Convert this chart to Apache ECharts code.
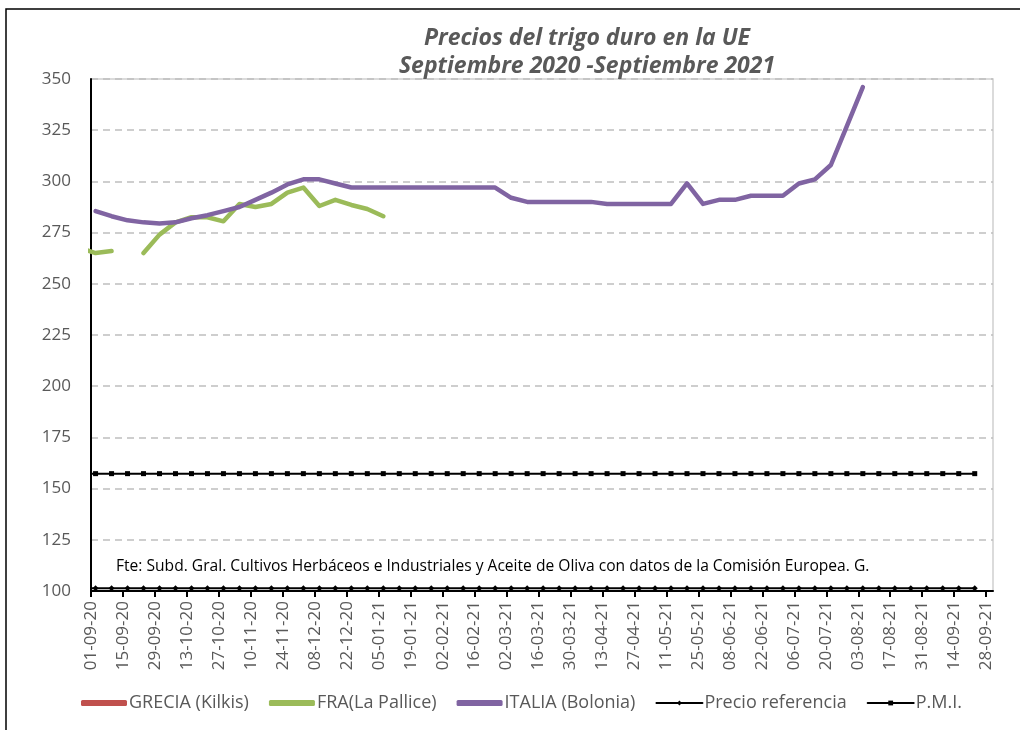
<!DOCTYPE html>
<html>
<head>
<meta charset="utf-8">
<script src="https://cdn.jsdelivr.net/npm/echarts@6/dist/echarts.min.js"></script>
<style>
  html, body { margin: 0; padding: 0; background: #fff; }
  #chart { width: 1020px; height: 730px; }
</style>
</head>
<body>
<div id="chart"></div>
<script>
// Precios del trigo duro en la UE (semanal, Sep 2020 - Sep 2021)

// semanas: jueves desde 27-08-20, en dias desde 01-09-20
const dia0 = Date.UTC(2020, 8, 1)
const unDia = 86400000
const dias = []
for (let k = 0; k < 57; k++) {
  dias.push(-5 + 7 * k)
}

// eur/t, un valor por semana (null = sin dato)
const grecia = []
const fra = [267.5, 265, 266, null, 265, 274, 280, 282.5, 282.5, 280.5, 289, 287.5, 289, 294.5, 297, 288, 291, 288.5, 286.5, 283]
const italia = [null,
  285.5, 283, 281, 280, 279.5, 280, 282, 283.5, 285.5, 287.5, 291, 294.5, 298.5, 301, 301, 299,
  297, 297, 297, 297, 297, 297, 297, 297, 297, 297,
  292, 290, 290, 290, 290, 290, 289, 289, 289, 289, 289,
  299, 289, 291, 291, 293, 293, 293, 299, 301, 308, 327, 346]
const precio_ref = 101.31
const pmi = 157.3

// ticks del eje x cada 14 dias: 01-09-20 ... 28-09-21
const ticks_x = []
for (let d = 0; d <= 392; d += 14) ticks_x.push(d)

function fechaTxt(d) {
  const f = new Date(dia0 + d * unDia)
  const dd = String(f.getUTCDate()).padStart(2, '0')
  const mm = String(f.getUTCMonth() + 1).padStart(2, '0')
  const yy = String(f.getUTCFullYear()).slice(2)
  return `${dd}-${mm}-${yy}`
}

function toPairs(arr) {
  return dias.map((d, k) => [d, arr[k] == null ? null : arr[k]])
}
function constante(v) {
  return dias.map(d => [d, v])
}

const font = 'Open Sans'
const gris = '#595959'

const serie = (name, data, color, width, symbol, size) => ({
  type: 'line',
  name: name,
  data: data,
  color: color,
  symbol: symbol || 'none',
  symbolSize: size || 0,
  showSymbol: !!symbol,
  connectNulls: false,
  clip: true,
  lineStyle: { width: width, color: color, cap: 'round', join: 'round' },
  itemStyle: { color: color },
  emphasis: { disabled: true },
})

const chart = echarts.init(document.getElementById('chart'))
chart.setOption({
  animation: false,
  title: {
    text: 'Precios del trigo duro en la UE\nSeptiembre 2020 -Septiembre 2021',
    left: 582,
    top: 19,
    textAlign: 'center',
    textStyle: {
      fontFamily: font,
      fontSize: 23,
      fontWeight: 'bold',
      fontStyle: 'italic',
      color: gris,
      lineHeight: 28,
    },
  },
  legend: {
    left: 76,
    top: 689,
    itemWidth: 46,
    itemHeight: 6,
    itemGap: 20,
    textStyle: { fontFamily: font, fontSize: 18, color: gris, padding: [0, 0, 0, -3] },
    data: [
      { name: 'GRECIA (Kilkis)', icon: 'roundRect' },
      { name: 'FRA(La Pallice)', icon: 'roundRect' },
      { name: 'ITALIA (Bolonia)', icon: 'roundRect' },
      'Precio referencia',
      'P.M.I.',
    ],
  },
  grid: { left: 91, right: 27, top: 79, bottom: 139 },
  xAxis: {
    type: 'value',
    min: 0,
    max: 395,
    interval: 14,
    axisLine: { show: true, onZero: false, lineStyle: { color: '#000', width: 2 } },
    axisTick: { show: true, length: 6, customValues: ticks_x, lineStyle: { color: '#000', width: 2 } },
    axisLabel: {
      customValues: ticks_x,
      rotate: 90,
      margin: 10,
      fontFamily: font,
      fontSize: 17,
      color: gris,
      formatter: v => fechaTxt(v),
    },
    splitLine: { show: false },
  },
  yAxis: {
    type: 'value',
    min: 100,
    max: 350,
    interval: 25,
    axisLine: { show: true, lineStyle: { color: '#000', width: 2 } },
    axisTick: { show: false },
    axisLabel: { margin: 20, fontFamily: font, fontSize: 17, color: gris },
    splitLine: { show: true, lineStyle: { color: '#BFBFBF', width: 1.5, type: [7, 5] } },
  },
  graphic: [
    {
      type: 'rect', z: -10, silent: true,
      shape: { x: 6, y: 9, width: 1100, height: 800 },
      style: { fill: 'none', stroke: '#000', lineWidth: 1.5 },
    },
    {
      type: 'rect', z: -5, silent: true,
      shape: { x: 91, y: 79, width: 902, height: 512 },
      style: { fill: 'none', stroke: '#D0D0D0', lineWidth: 1.5 },
    },
    {
      type: 'text', left: 116, top: 559, silent: true,
      style: {
        text: 'Fte: Subd. Gral. Cultivos Herbáceos e Industriales y Aceite de Oliva con datos de la Comisión Europea. G.',
        fontFamily: font, fontSize: 15.6, fill: '#000',
      },
    },
  ],
  series: [
    serie('GRECIA (Kilkis)', toPairs(grecia), '#C0504D', 5),
    serie('FRA(La Pallice)', toPairs(fra), '#9BBB59', 4.5),
    serie('ITALIA (Bolonia)', toPairs(italia), '#8064A2', 4.5),
    serie('Precio referencia', constante(precio_ref), '#000', 2, 'diamond', 6),
    serie('P.M.I.', constante(pmi), '#000', 2, 'rect', 5),
  ],
})
</script>
</body>
</html>
